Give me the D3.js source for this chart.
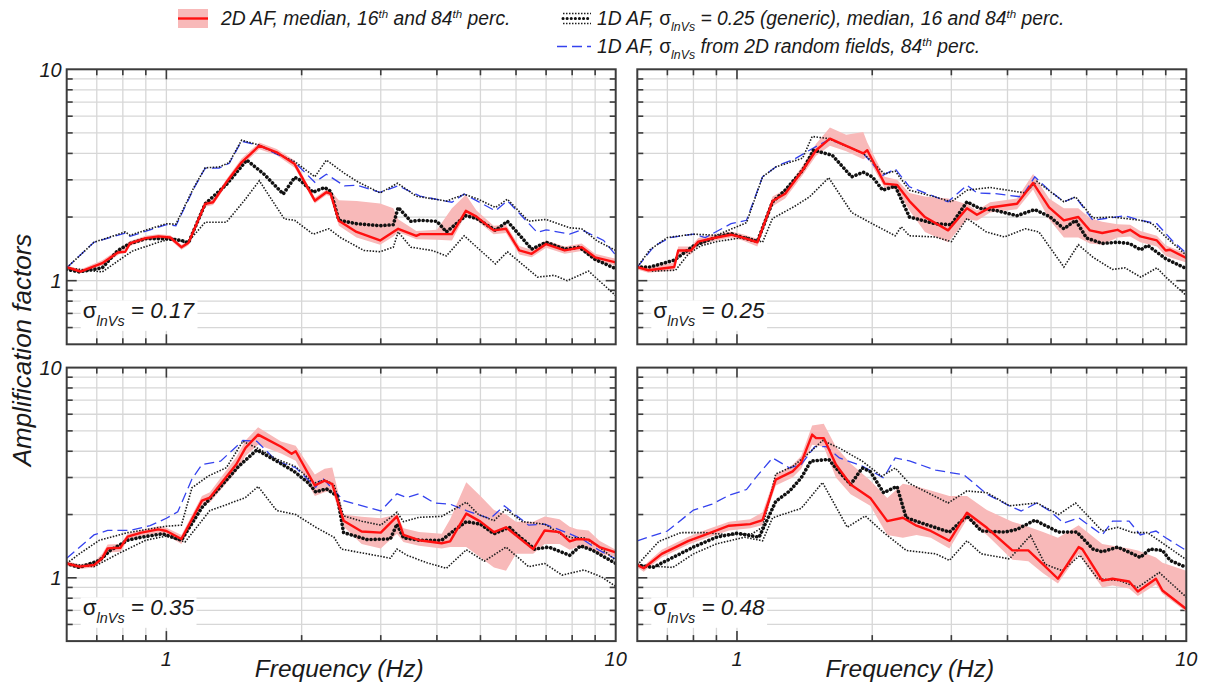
<!DOCTYPE html>
<html>
<head>
<meta charset="utf-8">
<script src="https://cdn.jsdelivr.net/npm/d3@7"></script>
<style>
  body { margin: 0; background: #fff; }
  svg { display: block; }
  text { font-family: "Liberation Sans", Arial, sans-serif; font-style: italic; fill: #1a1a1a; }
</style>
</head>
<body>
<svg id="chart" width="1206" height="687"></svg>
<script>
// Axis setup
const freqDomain = [0.6, 10];
const afDomain = [0.5, 10];
const freqGrid = [0.7, 0.8, 0.9, 1, 2, 3, 4, 5, 6, 7, 8, 9];
const afGrid = [0.6, 0.7, 0.8, 0.9, 1, 2, 3, 4, 5, 6, 7, 8, 9];
const freqTickLabels = [1, 10];
const afTickLabels = [1, 10];
const sigmaValues = ["0.17", "0.25", "0.35", "0.48"];

// Panel 1: sigma lnVs = 0.17   ([frequency Hz, AF] pairs; band = [f, 16th, 84th])
const p1_med2D = [[0.6,1.16],[0.644,1.105],[0.72,1.21],[0.78,1.36],[0.81,1.37],[0.83,1.50],[0.90,1.59],[0.96,1.62],[1.02,1.60],[1.08,1.44],[1.12,1.51],[1.22,2.31],[1.27,2.35],[1.36,2.92],[1.47,3.63],[1.61,4.35],[1.76,4.05],[1.93,3.56],[2.14,2.39],[2.27,2.62],[2.32,2.58],[2.42,1.92],[2.65,1.70],[2.99,1.55],[3.28,1.76],[3.6,1.63],[3.67,1.66],[4.32,1.66],[4.64,2.14],[4.9,2.01],[5.35,1.73],[5.7,1.76],[6.1,1.39],[6.5,1.34],[7.0,1.49],[7.7,1.39],[8.4,1.44],[9.0,1.29],[10,1.22]];
const p1_band2D = [[0.6,1.13,1.18],[0.644,1.09,1.13],[0.72,1.18,1.25],[0.78,1.32,1.40],[0.83,1.46,1.54],[0.90,1.55,1.63],[0.96,1.58,1.66],[1.02,1.56,1.64],[1.08,1.40,1.48],[1.12,1.47,1.55],[1.22,2.24,2.38],[1.27,2.28,2.42],[1.36,2.82,3.02],[1.47,3.50,3.78],[1.61,4.18,4.50],[1.76,3.92,4.20],[1.93,3.42,3.70],[2.14,2.32,2.47],[2.27,2.54,2.70],[2.32,2.50,2.66],[2.42,1.82,2.40],[2.65,1.60,2.38],[2.99,1.48,2.32],[3.2,1.62,2.20],[3.28,1.70,1.95],[3.6,1.57,1.72],[4.0,1.56,1.74],[4.32,1.55,2.20],[4.64,2.06,2.55],[4.9,1.93,2.15],[5.35,1.66,1.82],[5.7,1.68,1.84],[6.1,1.33,1.46],[6.5,1.29,1.40],[7.0,1.43,1.55],[7.7,1.34,1.45],[8.4,1.38,1.50],[9.0,1.24,1.34],[10,1.18,1.27]];
const p1_med1D = [[0.6,1.13],[0.64,1.10],[0.72,1.15],[0.78,1.39],[0.83,1.50],[0.90,1.58],[1.0,1.58],[1.08,1.55],[1.12,1.51],[1.22,2.31],[1.36,2.85],[1.51,3.72],[1.65,3.19],[1.82,2.57],[1.93,3.08],[1.98,3.0],[2.12,2.62],[2.25,2.76],[2.32,2.65],[2.42,1.93],[2.65,1.86],[2.99,1.82],[3.2,1.84],[3.28,2.22],[3.5,1.91],[3.67,1.93],[4.0,1.91],[4.2,1.70],[4.64,2.03],[4.9,1.97],[5.4,1.73],[5.74,1.91],[6.1,1.65],[6.5,1.41],[7.0,1.52],[7.7,1.41],[8.3,1.44],[9.0,1.26],[10,1.14]];
const p1_p84_1D = [[0.6,1.15],[0.69,1.52],[0.81,1.70],[0.83,1.64],[0.92,1.76],[1.0,1.86],[1.05,1.85],[1.15,2.75],[1.22,3.42],[1.31,3.45],[1.38,3.62],[1.47,4.62],[1.61,4.38],[1.76,4.0],[1.93,3.66],[2.14,3.1],[2.27,3.72],[2.49,3.22],[2.67,2.93],[2.99,2.6],[3.27,2.89],[3.6,2.51],[4.2,2.38],[4.6,2.56],[4.9,2.45],[5.4,2.22],[5.74,2.43],[6.4,1.91],[7.0,1.95],[7.9,1.78],[8.4,1.76],[9.1,1.54],[10,1.39]];
const p1_p16_1D = [[0.6,1.15],[0.72,1.10],[0.81,1.31],[0.84,1.38],[0.96,1.52],[1.04,1.59],[1.11,1.50],[1.22,1.89],[1.36,1.89],[1.49,2.39],[1.61,2.97],[1.83,1.96],[1.93,1.93],[2.12,1.66],[2.3,1.76],[2.44,1.60],[2.75,1.39],[2.99,1.37],[3.2,1.44],[3.28,1.70],[3.5,1.44],[3.9,1.39],[4.2,1.31],[4.6,1.63],[5.0,1.39],[5.4,1.20],[5.74,1.37],[6.7,1.04],[7.3,1.06],[7.8,1.0],[8.7,1.11],[10,0.85]];
const p1_p84_rf = [[0.6,1.15],[0.69,1.52],[0.81,1.68],[0.83,1.62],[0.92,1.74],[1.0,1.84],[1.05,1.82],[1.15,2.72],[1.22,3.41],[1.31,3.41],[1.38,3.59],[1.47,4.57],[1.61,4.35],[1.76,3.97],[1.93,3.63],[2.14,2.92],[2.27,3.19],[2.49,2.81],[2.65,2.83],[2.99,2.62],[3.28,2.81],[3.67,2.51],[4.32,2.35],[4.6,2.57],[5.4,2.14],[5.74,2.39],[6.69,1.69],[7.0,1.74],[7.9,1.66],[8.4,1.74],[9.4,1.55],[10,1.32]];

// Panel 2: sigma lnVs = 0.25
const p2_med2D = [[0.6,1.16],[0.635,1.12],[0.725,1.16],[0.74,1.39],[0.79,1.39],[0.82,1.53],[0.9,1.60],[0.97,1.65],[1.03,1.60],[1.11,1.52],[1.2,2.38],[1.28,2.58],[1.4,3.33],[1.5,4.14],[1.61,4.70],[1.91,4.0],[1.95,4.14],[2.13,2.88],[2.27,2.84],[2.42,2.38],[2.62,2.0],[2.95,1.73],[3.25,2.2],[3.42,2.05],[3.66,2.22],[4.2,2.31],[4.56,2.9],[4.95,2.22],[5.34,1.93],[5.75,2.0],[6.1,1.73],[6.5,1.68],[7.03,1.74],[7.2,1.69],[7.5,1.74],[7.9,1.62],[8.6,1.55],[9.0,1.39],[9.2,1.40],[10,1.28]];
const p2_band2D = [[0.6,1.13,1.19],[0.635,1.09,1.15],[0.725,1.12,1.22],[0.74,1.33,1.45],[0.79,1.33,1.45],[0.82,1.47,1.59],[0.9,1.55,1.66],[0.97,1.60,1.71],[1.03,1.55,1.66],[1.11,1.45,1.58],[1.2,2.25,2.50],[1.28,2.45,2.70],[1.4,3.15,3.50],[1.5,3.90,4.45],[1.61,4.35,5.30],[1.75,4.10,4.90],[1.91,3.75,5.05],[1.95,3.85,4.50],[2.13,2.75,3.10],[2.27,2.70,3.0],[2.42,2.15,2.60],[2.62,1.70,2.50],[2.95,1.52,2.45],[3.25,1.95,2.30],[3.42,1.92,2.15],[3.66,2.10,2.35],[4.2,2.18,2.45],[4.56,2.70,3.20],[4.95,1.95,2.45],[5.34,1.60,2.20],[5.75,1.60,2.20],[6.1,1.50,1.98],[6.5,1.48,1.90],[7.03,1.60,1.85],[7.5,1.62,1.84],[7.9,1.52,1.72],[8.6,1.45,1.63],[9.0,1.31,1.47],[10,1.22,1.34]];
const p2_med1D = [[0.6,1.16],[0.64,1.16],[0.725,1.25],[0.8,1.46],[0.9,1.61],[0.97,1.67],[1.03,1.60],[1.11,1.53],[1.2,2.36],[1.28,2.68],[1.4,3.33],[1.48,4.14],[1.63,3.92],[1.8,3.10],[1.91,3.26],[2.0,3.10],[2.11,2.68],[2.25,2.80],[2.42,2.0],[2.76,1.86],[3.0,1.84],[3.25,2.36],[3.46,2.20],[3.76,2.15],[4.2,2.03],[4.6,2.17],[4.98,2.0],[5.34,1.76],[5.67,1.93],[6.0,1.59],[6.5,1.50],[7.03,1.52],[7.47,1.50],[7.92,1.40],[8.2,1.47],[9.0,1.27],[10,1.14]];
const p2_p84_1D = [[0.6,1.16],[0.64,1.40],[0.7,1.60],[0.8,1.66],[0.9,1.64],[1.05,1.88],[1.14,3.10],[1.22,3.45],[1.4,3.80],[1.47,4.81],[1.6,4.70],[1.91,4.0],[2.13,3.20],[2.25,3.30],[2.42,2.68],[2.76,2.49],[3.0,2.36],[3.25,2.68],[3.66,2.76],[4.38,2.60],[4.65,2.95],[5.34,2.36],[5.67,2.49],[6.2,1.98],[6.85,2.0],[7.92,1.93],[8.4,1.86],[9.0,1.61],[10,1.32]];
const p2_p16_1D = [[0.6,1.16],[0.65,1.11],[0.73,1.12],[0.78,1.34],[0.83,1.46],[0.9,1.53],[1.05,1.61],[1.14,1.52],[1.2,1.97],[1.34,2.24],[1.45,2.49],[1.6,3.07],[1.8,2.10],[2.0,1.86],[2.25,1.63],[2.32,1.80],[2.42,1.63],[2.76,1.61],[3.0,1.53],[3.25,1.97],[3.59,1.70],[3.94,1.61],[4.38,1.76],[4.7,1.70],[5.34,1.16],[5.75,1.48],[6.2,1.29],[6.85,1.13],[7.3,1.15],[7.92,1.04],[8.6,1.15],[9.0,1.04],[10,0.85]];
const p2_p84_rf = [[0.6,1.16],[0.655,1.46],[0.71,1.60],[0.8,1.66],[0.85,1.60],[0.97,1.86],[1.05,1.93],[1.14,3.10],[1.23,3.50],[1.34,3.75],[1.45,4.14],[1.6,4.65],[1.73,4.40],[1.91,4.0],[2.11,3.15],[2.25,3.38],[2.42,2.78],[2.95,2.36],[3.25,2.83],[3.42,2.60],[3.76,2.58],[4.3,2.49],[4.6,3.10],[4.95,2.68],[5.34,2.36],[5.67,2.49],[6.2,1.93],[7.3,2.03],[7.92,1.93],[8.6,1.86],[9.3,1.55],[10,1.35]];

// Panel 3: sigma lnVs = 0.35
const p3_med2D = [[0.6,1.17],[0.64,1.13],[0.69,1.15],[0.72,1.24],[0.74,1.38],[0.79,1.39],[0.82,1.57],[0.88,1.64],[0.96,1.70],[1.0,1.67],[1.08,1.53],[1.2,2.33],[1.25,2.41],[1.43,3.46],[1.5,4.15],[1.6,4.80],[1.8,4.20],[1.9,3.89],[1.94,4.0],[2.14,2.75],[2.25,2.90],[2.34,2.79],[2.48,1.87],[2.72,1.66],[3.0,1.64],[3.26,1.96],[3.37,1.60],[3.65,1.51],[4.1,1.46],[4.28,1.49],[4.65,2.02],[5.0,1.85],[5.36,1.65],[5.7,1.74],[6.55,1.37],[6.95,1.68],[7.5,1.65],[7.9,1.49],[8.2,1.53],[8.7,1.52],[9.2,1.40],[10,1.32]];
const p3_band2D = [[0.6,1.14,1.20],[0.64,1.10,1.16],[0.69,1.12,1.19],[0.72,1.20,1.30],[0.74,1.32,1.44],[0.79,1.33,1.45],[0.82,1.51,1.62],[0.88,1.58,1.69],[0.96,1.63,1.76],[1.0,1.60,1.73],[1.08,1.45,1.60],[1.2,2.20,2.45],[1.25,2.28,2.55],[1.43,3.20,3.75],[1.5,3.80,4.50],[1.6,4.30,5.20],[1.8,3.90,4.45],[1.94,3.60,4.25],[2.14,2.45,3.10],[2.25,2.55,3.30],[2.34,2.60,3.35],[2.48,1.75,2.0],[2.72,1.45,1.95],[3.0,1.38,1.92],[3.26,1.62,2.0],[3.37,1.48,1.72],[3.65,1.42,1.65],[4.1,1.38,1.62],[4.28,1.40,1.90],[4.65,1.40,2.85],[5.0,1.25,2.45],[5.36,1.12,2.10],[5.7,1.08,2.0],[6.0,1.30,1.85],[6.55,1.30,1.85],[6.95,1.45,1.96],[7.5,1.45,1.90],[7.9,1.36,1.75],[8.2,1.40,1.70],[8.7,1.38,1.68],[9.2,1.30,1.50],[10,1.26,1.36]];
const p3_med1D = [[0.6,1.17],[0.64,1.12],[0.71,1.21],[0.75,1.35],[0.82,1.51],[0.88,1.56],[0.98,1.62],[1.08,1.51],[1.2,2.16],[1.25,2.38],[1.45,3.40],[1.59,4.06],[1.76,3.59],[1.92,3.22],[2.07,2.83],[2.15,2.56],[2.27,2.65],[2.4,2.45],[2.48,1.64],[2.8,1.52],[3.15,1.53],[3.26,1.80],[3.37,1.55],[3.65,1.51],[4.1,1.51],[4.4,1.70],[4.65,1.85],[5.0,1.80],[5.36,1.62],[5.8,1.74],[6.0,1.62],[6.6,1.37],[7.1,1.40],[7.9,1.28],[8.35,1.42],[8.9,1.35],[10,1.17]];
const p3_p84_1D = [[0.6,1.17],[0.64,1.30],[0.71,1.51],[0.82,1.64],[1.0,1.76],[1.08,1.78],[1.14,2.68],[1.24,3.05],[1.36,3.34],[1.48,4.46],[1.59,4.15],[1.76,3.67],[1.94,3.38],[2.13,2.82],[2.25,2.92],[2.36,2.78],[2.48,1.97],[2.72,1.86],[3.0,1.78],[3.26,2.05],[3.37,1.85],[3.65,1.94],[4.1,1.96],[4.65,2.29],[4.95,2.0],[5.36,1.87],[5.7,2.12],[6.2,1.85],[6.95,1.80],[7.6,1.60],[8.0,1.55],[8.5,1.55],[9.2,1.40],[10,1.21]];
const p3_p16_1D = [[0.6,1.17],[0.69,1.13],[0.78,1.30],[0.9,1.51],[1.0,1.58],[1.1,1.48],[1.25,2.09],[1.4,2.28],[1.5,2.41],[1.6,2.72],[1.76,2.09],[1.94,2.0],[2.15,1.74],[2.36,1.56],[2.45,1.37],[2.8,1.30],[3.15,1.24],[3.26,1.37],[3.43,1.28],[3.8,1.18],[4.2,1.11],[4.65,1.36],[5.1,1.20],[5.7,1.40],[6.4,1.13],[6.95,1.17],[7.6,1.03],[8.5,1.09],[9.3,1.01],[10,0.91]];
const p3_p84_rf = [[0.6,1.24],[0.69,1.60],[0.74,1.68],[0.83,1.68],[0.92,1.77],[1.0,1.92],[1.06,2.06],[1.14,2.95],[1.2,3.46],[1.32,3.59],[1.48,4.50],[1.59,4.46],[1.76,3.59],[1.94,3.34],[2.15,2.70],[2.22,3.0],[2.48,2.33],[3.0,2.08],[3.26,2.51],[3.43,2.41],[3.65,2.51],[3.95,2.27],[4.28,2.24],[4.65,2.09],[5.25,1.91],[5.65,2.20],[6.4,1.78],[6.95,1.80],[7.9,1.62],[8.5,1.51],[9.2,1.35],[10,1.23]];

// Panel 4: sigma lnVs = 0.48
const p4_med2D = [[0.6,1.15],[0.62,1.11],[0.68,1.30],[0.78,1.50],[0.86,1.62],[0.96,1.77],[1.07,1.80],[1.14,1.88],[1.22,2.93],[1.33,3.21],[1.39,3.53],[1.47,4.80],[1.5,4.62],[1.56,4.62],[1.66,3.46],[1.79,2.78],[1.98,2.40],[2.16,1.86],[2.34,1.93],[2.51,1.77],[2.7,1.67],[2.97,1.50],[3.25,2.04],[3.6,1.73],[4.1,1.35],[4.45,1.35],[4.8,1.16],[5.18,0.99],[5.76,1.40],[5.87,1.37],[6.5,0.97],[6.85,0.99],[7.46,0.96],[7.8,0.86],[8.56,0.99],[8.85,0.87],[10,0.71]];
const p4_band2D = [[0.6,1.12,1.18],[0.62,1.07,1.14],[0.68,1.25,1.36],[0.78,1.44,1.57],[0.86,1.55,1.70],[0.96,1.68,1.85],[1.07,1.72,1.90],[1.14,1.78,2.05],[1.22,2.75,3.10],[1.33,3.0,3.45],[1.39,3.30,3.80],[1.47,4.30,5.30],[1.56,4.20,5.40],[1.66,3.0,4.20],[1.79,2.50,3.50],[1.98,2.20,2.90],[2.16,1.60,2.40],[2.34,1.55,2.80],[2.51,1.60,2.72],[2.7,1.55,2.60],[2.97,1.38,2.45],[3.25,1.90,2.45],[3.6,1.60,2.10],[4.1,1.22,1.85],[4.45,1.20,1.75],[4.8,1.05,1.65],[5.18,0.94,1.55],[5.76,1.30,1.78],[6.5,0.90,1.45],[6.85,0.92,1.42],[7.46,0.89,1.38],[7.8,0.82,1.35],[8.56,0.93,1.25],[8.85,0.84,1.18],[10,0.69,1.08]];
const p4_med1D = [[0.6,1.15],[0.65,1.12],[0.8,1.40],[0.9,1.56],[1.0,1.63],[1.12,1.56],[1.22,2.31],[1.31,2.59],[1.39,2.99],[1.46,3.59],[1.6,3.66],[1.66,3.33],[1.79,2.78],[1.9,3.33],[1.98,3.20],[2.12,2.54],[2.27,2.72],[2.38,1.93],[2.56,1.83],[2.97,1.65],[3.25,1.97],[3.5,1.67],[3.95,1.65],[4.2,1.70],[4.6,1.88],[5.2,1.65],[5.71,1.65],[6.2,1.37],[6.5,1.33],[7.04,1.40],[7.9,1.25],[8.3,1.37],[8.85,1.35],[9.2,1.21],[10,1.12]];
const p4_p84_1D = [[0.6,1.15],[0.67,1.49],[0.75,1.64],[0.85,1.64],[0.96,1.60],[1.08,1.62],[1.14,1.74],[1.22,3.12],[1.33,3.38],[1.46,4.0],[1.55,4.50],[1.69,4.14],[1.9,3.59],[2.1,3.04],[2.25,3.33],[2.42,2.81],[2.95,2.27],[3.25,2.59],[3.6,2.54],[4.04,2.20],[4.65,2.27],[5.2,2.0],[5.67,2.27],[6.5,1.67],[7.04,1.74],[7.6,1.64],[8.2,1.64],[10,1.22]];
const p4_p16_1D = [[0.6,1.15],[0.72,1.12],[0.8,1.30],[0.9,1.45],[1.04,1.56],[1.14,1.50],[1.2,1.93],[1.39,2.14],[1.55,2.84],[1.76,1.74],[1.93,1.97],[2.1,1.67],[2.38,1.35],[2.77,1.30],[2.97,1.21],[3.25,1.50],[3.5,1.30],[4.04,1.23],[4.5,1.59],[4.85,1.16],[5.3,1.08],[5.8,1.28],[6.35,0.99],[7.1,0.97],[7.8,0.90],[8.2,0.97],[8.7,1.06],[10,0.81]];
const p4_p84_rf = [[0.6,1.50],[0.7,1.67],[0.8,2.10],[0.88,2.24],[0.96,2.47],[1.05,2.63],[1.1,2.99],[1.2,3.72],[1.31,3.33],[1.39,3.46],[1.49,4.21],[1.58,4.21],[1.69,3.72],[1.9,3.40],[2.12,2.99],[2.25,3.72],[2.42,3.60],[2.77,3.25],[3.2,3.09],[3.6,2.50],[4.04,2.20],[4.29,2.08],[4.65,2.27],[4.97,2.08],[5.33,1.82],[5.76,1.93],[6.5,1.60],[6.85,1.86],[7.46,1.86],[7.9,1.60],[8.56,1.67],[9.0,1.55],[10,1.35]];

const panels = [
  { sigma: sigmaValues[0], band: p1_band2D, med2D: p1_med2D, med1D: p1_med1D, p84: p1_p84_1D, p16: p1_p16_1D, rf: p1_p84_rf },
  { sigma: sigmaValues[1], band: p2_band2D, med2D: p2_med2D, med1D: p2_med1D, p84: p2_p84_1D, p16: p2_p16_1D, rf: p2_p84_rf },
  { sigma: sigmaValues[2], band: p3_band2D, med2D: p3_med2D, med1D: p3_med1D, p84: p3_p84_1D, p16: p3_p16_1D, rf: p3_p84_rf },
  { sigma: sigmaValues[3], band: p4_band2D, med2D: p4_med2D, med1D: p4_med1D, p84: p4_p84_1D, p16: p4_p16_1D, rf: p4_p84_rf }
];

// Layout of the 2x2 grid
const PW = 549;
const boxes = [
  { x: 66.7,  y: 69.3,  h: 275,   left: true,  bottom: false },
  { x: 637.3, y: 69.3,  h: 275,   left: false, bottom: false },
  { x: 66.7,  y: 367.6, h: 273.5, left: true,  bottom: true },
  { x: 637.3, y: 367.6, h: 273.5, left: false, bottom: true }
];

const COL = {
  grid: "#d7d7d7", frame: "#3c3c3c", red: "#ff1010", band: "#f8b9b9",
  black: "#111", thin: "#1c1c1c", blue: "#3442ee"
};

const svg = d3.select("#chart");
const defs = svg.append("defs");

// Writes a run of text pieces; kinds: n (italic), s (upright symbol), sub, sup
function richText(textSel, parts, base) {
  let shift = 0;
  parts.forEach(([str, kind]) => {
    const t = textSel.append("tspan").text(str);
    let target = 0;
    if (kind === "sub") { target = base * 0.33; t.style("font-size", (base * 0.64) + "px"); }
    else if (kind === "sup") { target = -base * 0.38; t.style("font-size", (base * 0.6) + "px"); }
    else if (kind === "s") { t.style("font-style", "normal"); }
    if (target !== shift) { t.attr("dy", target - shift); shift = target; }
  });
}

panels.forEach((p, i) => {
  const b = boxes[i];
  const x = d3.scaleLog().domain(freqDomain).range([b.x, b.x + PW]);
  const y = d3.scaleLog().domain(afDomain).range([b.y + b.h, b.y]);
  const g = svg.append("g");

  defs.append("clipPath").attr("id", "clip" + i)
    .append("rect").attr("x", b.x).attr("y", b.y).attr("width", PW).attr("height", b.h);

  // grid
  g.append("g").selectAll("line").data(freqGrid).join("line")
    .attr("x1", d => x(d)).attr("x2", d => x(d)).attr("y1", b.y).attr("y2", b.y + b.h)
    .attr("stroke", COL.grid).attr("stroke-width", 1.3);
  g.append("g").selectAll("line").data(afGrid).join("line")
    .attr("x1", b.x).attr("x2", b.x + PW).attr("y1", d => y(d)).attr("y2", d => y(d))
    .attr("stroke", COL.grid).attr("stroke-width", 1.3);

  // inward ticks on all four sides
  const tk = d => (d === 1 ? 10 : 6);
  const ticks = g.append("g").attr("stroke", COL.frame).attr("stroke-width", 1.6);
  freqGrid.forEach(d => {
    ticks.append("line").attr("x1", x(d)).attr("x2", x(d)).attr("y1", b.y).attr("y2", b.y + tk(d));
    ticks.append("line").attr("x1", x(d)).attr("x2", x(d)).attr("y1", b.y + b.h).attr("y2", b.y + b.h - tk(d));
  });
  afGrid.forEach(d => {
    ticks.append("line").attr("x1", b.x).attr("x2", b.x + tk(d)).attr("y1", y(d)).attr("y2", y(d));
    ticks.append("line").attr("x1", b.x + PW).attr("x2", b.x + PW - tk(d)).attr("y1", y(d)).attr("y2", y(d));
  });

  // data layers
  const layer = g.append("g").attr("clip-path", `url(#clip${i})`);
  const line = d3.line().x(d => x(d[0])).y(d => y(d[1]));
  const area = d3.area().x(d => x(d[0])).y0(d => y(d[1])).y1(d => y(d[2]));

  layer.append("path").attr("d", area(p.band)).attr("fill", COL.band);
  layer.append("path").attr("d", line(p.rf)).attr("fill", "none")
    .attr("stroke", COL.blue).attr("stroke-width", 1.3).attr("stroke-dasharray", "10 5");
  [p.p84, p.p16].forEach(s => {
    layer.append("path").attr("d", line(s)).attr("fill", "none")
      .attr("stroke", COL.thin).attr("stroke-width", 1.6).attr("stroke-dasharray", "1.5 1.5");
  });
  layer.append("path").attr("d", line(p.med1D)).attr("fill", "none")
    .attr("stroke", COL.black).attr("stroke-width", 3.6).attr("stroke-linecap", "round")
    .attr("stroke-dasharray", "0.1 4");
  layer.append("path").attr("d", line(p.med2D)).attr("fill", "none")
    .attr("stroke", COL.red).attr("stroke-width", 2.4).attr("stroke-linejoin", "round");

  // frame
  g.append("rect").attr("x", b.x).attr("y", b.y).attr("width", PW).attr("height", b.h)
    .attr("fill", "none").attr("stroke", COL.frame).attr("stroke-width", 2);

  // sigma annotation with a white backing
  const ann = g.append("g");
  const bg = ann.append("rect").attr("fill", "#fff");
  const t = ann.append("text").attr("x", b.x + 16).attr("y", y(0.7) + 5).style("font-size", "22.5px");
  richText(t, [["σ", "s"], ["lnVs", "sub"], [" = " + p.sigma, "n"]], 22.5);
  const bb = t.node().getBBox();
  bg.attr("x", bb.x - 2).attr("y", bb.y + 2).attr("width", bb.width + 4).attr("height", bb.height);

  // tick labels
  if (b.left) {
    g.append("g").selectAll("text").data(afTickLabels).join("text")
      .attr("x", b.x - 5).attr("y", d => y(d)).attr("dy", "0.36em")
      .attr("text-anchor", "end").style("font-size", "20px").text(d => d);
  }
  if (b.bottom) {
    g.append("g").selectAll("text").data(freqTickLabels).join("text")
      .attr("x", d => x(d)).attr("y", b.y + b.h + 25)
      .attr("text-anchor", "middle").style("font-size", "20px").text(d => d);
    g.append("text").attr("x", b.x + PW / 2 - 2).attr("y", 677)
      .attr("text-anchor", "middle").style("font-size", "24.5px").text("Frequency (Hz)");
  }
});

// y-axis title
svg.append("text").attr("transform", "translate(31,350) rotate(-90)")
  .attr("text-anchor", "middle").style("font-size", "26px").text("Amplification factors");

// legend
const LF = 19.3;
const lg = svg.append("g");
lg.append("rect").attr("x", 178).attr("y", 9).attr("width", 30).attr("height", 19).attr("fill", COL.band);
lg.append("line").attr("x1", 178).attr("x2", 208).attr("y1", 18.5).attr("y2", 18.5)
  .attr("stroke", COL.red).attr("stroke-width", 2.4);
richText(lg.append("text").attr("x", 221).attr("y", 25).style("font-size", LF + "px"),
  [["2D AF, median, 16", "n"], ["th", "sup"], [" and 84", "n"], ["th", "sup"], [" perc.", "n"]], LF);

[[13.5, "thin"], [18.5, "thick"], [23.5, "thin"]].forEach(([yy, kind]) => {
  const l = lg.append("line").attr("x1", 563).attr("x2", 591).attr("y1", yy).attr("y2", yy).attr("fill", "none");
  if (kind === "thin") l.attr("stroke", COL.thin).attr("stroke-width", 1.4).attr("stroke-dasharray", "1.5 1.5");
  else l.attr("stroke", COL.black).attr("stroke-width", 3).attr("stroke-linecap", "round").attr("stroke-dasharray", "0.1 4");
});
richText(lg.append("text").attr("x", 597).attr("y", 25).style("font-size", LF + "px"),
  [["1D AF, ", "n"], ["σ", "s"], ["lnVs", "sub"], [" = 0.25 (generic), median, 16 and 84", "n"], ["th", "sup"], [" perc.", "n"]], LF);

lg.append("line").attr("x1", 557).attr("x2", 591).attr("y1", 46.5).attr("y2", 46.5)
  .attr("stroke", COL.blue).attr("stroke-width", 1.3).attr("stroke-dasharray", "10 5");
richText(lg.append("text").attr("x", 597).attr("y", 53).style("font-size", LF + "px"),
  [["1D AF, ", "n"], ["σ", "s"], ["lnVs", "sub"], [" from 2D random fields, 84", "n"], ["th", "sup"], [" perc.", "n"]], LF);
</script>
</body>
</html>
